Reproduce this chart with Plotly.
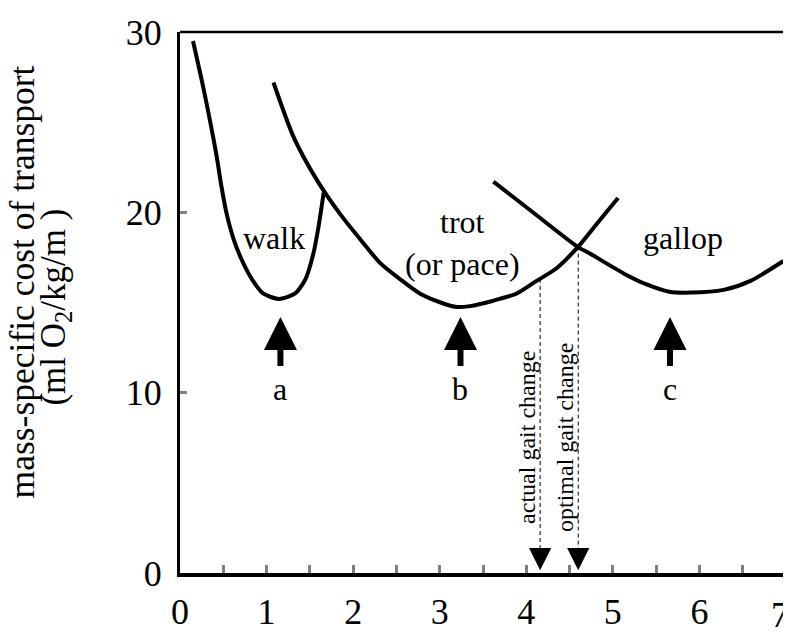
import plotly.graph_objects as go

# ---- data ----
walk_x = [0.15, 0.27, 0.42, 0.48, 0.54, 0.62, 0.71, 0.83, 0.96, 1.14, 1.33, 1.45, 1.54, 1.60, 1.66]
walk_y = [29.5, 26.9, 23.2, 21.4, 19.9, 18.5, 17.4, 16.3, 15.5, 15.2, 15.5, 16.3, 17.7, 19.2, 21.1]

trot_x = [1.08, 1.31, 1.58, 1.85, 2.10, 2.31, 2.54, 2.77, 3.01, 3.18, 3.35, 3.62, 3.89, 4.12, 4.35, 4.60, 4.82, 5.06]
trot_y = [27.2, 24.2, 21.8, 19.9, 18.4, 17.2, 16.3, 15.5, 15.0, 14.76, 14.8, 15.1, 15.5, 16.2, 16.9, 18.1, 19.4, 20.8]

gallop_x = [3.62, 4.05, 4.59, 4.74, 5.13, 5.39, 5.65, 5.90, 6.28, 6.59, 6.97]
gallop_y = [21.7, 20.1, 18.1, 17.7, 16.6, 16.0, 15.6, 15.55, 15.7, 16.2, 17.3]

gait_labels = ["walk", "trot<br>(or pace)", "gallop"]
gait_label_x = [1.09, 3.26, 5.81]
gait_label_y = [18.6, 18.3, 18.6]

min_labels = ["a", "b", "c"]
min_x = [1.16, 3.24, 5.66]
min_arrow_tail = 11.4
min_arrow_tip = 14.2
min_label_y = 10.2

change_labels = ["actual gait change", "optimal gait change"]
change_x = [4.16, 4.60]
change_top_y = [16.3, 18.1]
change_text_x = [4.01, 4.45]
change_text_y = 7.5

x_ticks = [0, 1, 2, 3, 4, 5, 6, 7]
y_ticks = [0, 10, 20, 30]

FONT = "Liberation Serif"

fig = go.Figure()
line_style = dict(color="black", width=4)
for xs, ys in [(walk_x, walk_y), (trot_x, trot_y), (gallop_x, gallop_y)]:
    fig.add_trace(go.Scatter(x=xs, y=ys, mode="lines", line=dict(shape="spline", smoothing=0.7, **line_style),
                             hoverinfo="skip", showlegend=False))

# dashed drop lines
for cx, cy in zip(change_x, change_top_y):
    fig.add_trace(go.Scatter(x=[cx, cx], y=[cy, 1.2], mode="lines",
                             line=dict(color="black", width=1, dash="4px,3px"),
                             hoverinfo="skip", showlegend=False))
    fig.add_annotation(x=cx, y=0.15, ax=cx, ay=1.3, xref="x", yref="y", axref="x", ayref="y",
                       text="", showarrow=True, arrowhead=2, arrowwidth=1.2, arrowsize=3.7,
                       arrowcolor="black")

for t, tx in zip(change_labels, change_text_x):
    fig.add_annotation(x=tx, y=change_text_y, text=t, showarrow=False, textangle=-90,
                       font=dict(family=FONT, size=24, color="black"))

# gait labels
for t, tx, ty in zip(gait_labels, gait_label_x, gait_label_y):
    fig.add_annotation(x=tx, y=ty, text=t, showarrow=False,
                       font=dict(family=FONT, size=32, color="black"))

# minimum arrows
for t, mx in zip(min_labels, min_x):
    fig.add_annotation(x=mx, y=min_arrow_tip, ax=mx, ay=min_arrow_tail, xref="x", yref="y",
                       axref="x", ayref="y", text="", showarrow=True, arrowhead=2,
                       arrowwidth=6, arrowsize=1.1, arrowcolor="black")
    fig.add_annotation(x=mx, y=min_label_y, text=t, showarrow=False,
                       font=dict(family=FONT, size=32, color="black"))

# y-axis title (two lines)
fig.add_annotation(xref="paper", yref="paper", x=-0.26, y=0.538, xanchor="center", yanchor="middle",
                   text="mass-specific cost of transport",
                   showarrow=False, textangle=-90, font=dict(family=FONT, size=35.5, color="black"))
fig.add_annotation(xref="paper", yref="paper", x=-0.205, y=0.492, xanchor="center", yanchor="middle",
                   text="(ml O<sub>2</sub>/kg/m )",
                   showarrow=False, textangle=-90, font=dict(family=FONT, size=35, color="black"))

# last x tick label sits at the right edge of the page: keep it inside the figure
fig.add_annotation(xref="paper", yref="y", x=1, y=0, xanchor="right", yanchor="top",
                   xshift=5, yshift=-20, text=str(x_ticks[-1]), showarrow=False,
                   font=dict(family=FONT, size=36, color="black"))

# frame top and right
fig.add_shape(type="line", xref="paper", yref="paper", x0=0, x1=1, y0=1, y1=1,
              line=dict(color="black", width=2.5))
fig.add_shape(type="line", xref="paper", yref="paper", x0=1, x1=1, y0=0, y1=1,
              line=dict(color="gray", width=1))

# page body has an 8px margin: compensate so the plot lands where the reference has it
fig.update_layout(
    width=783, height=633,
    margin=dict(l=172, r=5, t=19, b=68),
    plot_bgcolor="white", paper_bgcolor="white",
    showlegend=False,
)
fig.update_xaxes(range=[0, 7], tickvals=x_ticks[:-1], ticktext=[str(v) for v in x_ticks[:-1]],
                 showgrid=False, zeroline=False, showline=True, linecolor="black", linewidth=3.5,
                 ticks="inside", ticklen=8, tickwidth=3, tickcolor="gray",
                 minor=dict(ticks="inside", dtick=0.5, ticklen=8, tickwidth=3, tickcolor="gray"),
                 tickfont=dict(family=FONT, size=36, color="black"), ticklabelstandoff=4)
fig.update_yaxes(range=[0, 30], tickvals=y_ticks, ticktext=[str(v) for v in y_ticks],
                 showgrid=False, zeroline=False, showline=True, linecolor="black", linewidth=3,
                 ticks="inside", ticklen=7, tickwidth=3, tickcolor="gray",
                 tickfont=dict(family=FONT, size=36, color="black"), ticklabelstandoff=8,
                 ticklabeloverflow="allow")

fig.write_html("out.html")
